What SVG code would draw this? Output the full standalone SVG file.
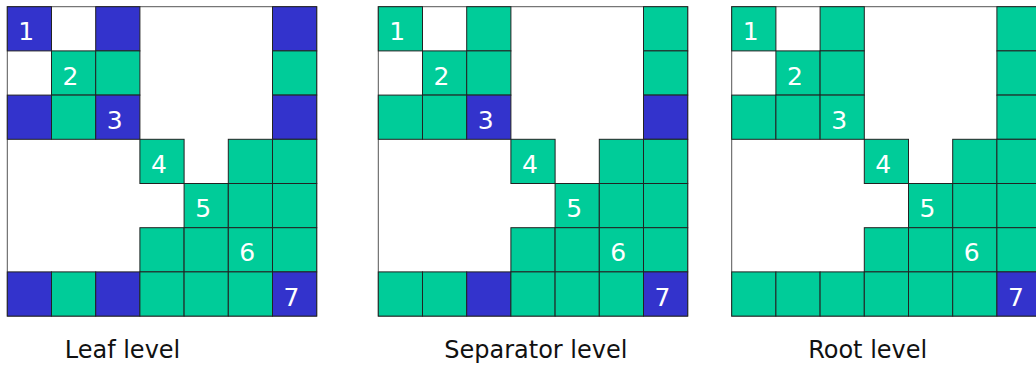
<svg xmlns="http://www.w3.org/2000/svg" width="1036" height="367" viewBox="0 0 1036 367">
<style>
.frame{fill:#ffffff;stroke:#555555;stroke-width:1}
.b{fill:#3333cc;stroke:#222222;stroke-width:1}
.g{fill:#00cc99;stroke:#222222;stroke-width:1}
.n{font-family:"DejaVu Sans",Verdana,sans-serif;font-size:25px;fill:#ffffff;text-anchor:middle}
.lbl{font-family:"DejaVu Sans",Verdana,sans-serif;font-size:24px;fill:#111111;text-anchor:middle}
</style>
<rect width="1036" height="367" fill="#ffffff"/>
<g id="leaf" transform="translate(7.3,6.7)">
<rect class="frame" x="0" y="0" width="309.4" height="309.4"/>
<rect class="b" x="0" y="0" width="44.2" height="44.2"/>
<rect class="b" x="88.4" y="0" width="44.2" height="44.2"/>
<rect class="b" x="265.2" y="0" width="44.2" height="44.2"/>
<rect class="g" x="44.2" y="44.2" width="44.2" height="44.2"/>
<rect class="g" x="88.4" y="44.2" width="44.2" height="44.2"/>
<rect class="g" x="265.2" y="44.2" width="44.2" height="44.2"/>
<rect class="b" x="0" y="88.4" width="44.2" height="44.2"/>
<rect class="g" x="44.2" y="88.4" width="44.2" height="44.2"/>
<rect class="b" x="88.4" y="88.4" width="44.2" height="44.2"/>
<rect class="b" x="265.2" y="88.4" width="44.2" height="44.2"/>
<rect class="g" x="132.6" y="132.6" width="44.2" height="44.2"/>
<rect class="g" x="221" y="132.6" width="44.2" height="44.2"/>
<rect class="g" x="265.2" y="132.6" width="44.2" height="44.2"/>
<rect class="g" x="176.8" y="176.8" width="44.2" height="44.2"/>
<rect class="g" x="221" y="176.8" width="44.2" height="44.2"/>
<rect class="g" x="265.2" y="176.8" width="44.2" height="44.2"/>
<rect class="g" x="132.6" y="221" width="44.2" height="44.2"/>
<rect class="g" x="176.8" y="221" width="44.2" height="44.2"/>
<rect class="g" x="221" y="221" width="44.2" height="44.2"/>
<rect class="g" x="265.2" y="221" width="44.2" height="44.2"/>
<rect class="b" x="0" y="265.2" width="44.2" height="44.2"/>
<rect class="g" x="44.2" y="265.2" width="44.2" height="44.2"/>
<rect class="b" x="88.4" y="265.2" width="44.2" height="44.2"/>
<rect class="g" x="132.6" y="265.2" width="44.2" height="44.2"/>
<rect class="g" x="176.8" y="265.2" width="44.2" height="44.2"/>
<rect class="g" x="221" y="265.2" width="44.2" height="44.2"/>
<rect class="b" x="265.2" y="265.2" width="44.2" height="44.2"/>
<text class="n" x="19" y="33.8">1</text>
<text class="n" x="63.2" y="78">2</text>
<text class="n" x="107.4" y="122.2">3</text>
<text class="n" x="151.6" y="166.4">4</text>
<text class="n" x="195.8" y="210.6">5</text>
<text class="n" x="240" y="254.8">6</text>
<text class="n" x="284.2" y="299">7</text>
</g>
<g id="separator" transform="translate(378.3,6.7)">
<rect class="frame" x="0" y="0" width="309.4" height="309.4"/>
<rect class="g" x="0" y="0" width="44.2" height="44.2"/>
<rect class="g" x="88.4" y="0" width="44.2" height="44.2"/>
<rect class="g" x="265.2" y="0" width="44.2" height="44.2"/>
<rect class="g" x="44.2" y="44.2" width="44.2" height="44.2"/>
<rect class="g" x="88.4" y="44.2" width="44.2" height="44.2"/>
<rect class="g" x="265.2" y="44.2" width="44.2" height="44.2"/>
<rect class="g" x="0" y="88.4" width="44.2" height="44.2"/>
<rect class="g" x="44.2" y="88.4" width="44.2" height="44.2"/>
<rect class="b" x="88.4" y="88.4" width="44.2" height="44.2"/>
<rect class="b" x="265.2" y="88.4" width="44.2" height="44.2"/>
<rect class="g" x="132.6" y="132.6" width="44.2" height="44.2"/>
<rect class="g" x="221" y="132.6" width="44.2" height="44.2"/>
<rect class="g" x="265.2" y="132.6" width="44.2" height="44.2"/>
<rect class="g" x="176.8" y="176.8" width="44.2" height="44.2"/>
<rect class="g" x="221" y="176.8" width="44.2" height="44.2"/>
<rect class="g" x="265.2" y="176.8" width="44.2" height="44.2"/>
<rect class="g" x="132.6" y="221" width="44.2" height="44.2"/>
<rect class="g" x="176.8" y="221" width="44.2" height="44.2"/>
<rect class="g" x="221" y="221" width="44.2" height="44.2"/>
<rect class="g" x="265.2" y="221" width="44.2" height="44.2"/>
<rect class="g" x="0" y="265.2" width="44.2" height="44.2"/>
<rect class="g" x="44.2" y="265.2" width="44.2" height="44.2"/>
<rect class="b" x="88.4" y="265.2" width="44.2" height="44.2"/>
<rect class="g" x="132.6" y="265.2" width="44.2" height="44.2"/>
<rect class="g" x="176.8" y="265.2" width="44.2" height="44.2"/>
<rect class="g" x="221" y="265.2" width="44.2" height="44.2"/>
<rect class="b" x="265.2" y="265.2" width="44.2" height="44.2"/>
<text class="n" x="19" y="33.8">1</text>
<text class="n" x="63.2" y="78">2</text>
<text class="n" x="107.4" y="122.2">3</text>
<text class="n" x="151.6" y="166.4">4</text>
<text class="n" x="195.8" y="210.6">5</text>
<text class="n" x="240" y="254.8">6</text>
<text class="n" x="284.2" y="299">7</text>
</g>
<g id="root" transform="translate(731.7,6.7)">
<rect class="frame" x="0" y="0" width="309.4" height="309.4"/>
<rect class="g" x="0" y="0" width="44.2" height="44.2"/>
<rect class="g" x="88.4" y="0" width="44.2" height="44.2"/>
<rect class="g" x="265.2" y="0" width="44.2" height="44.2"/>
<rect class="g" x="44.2" y="44.2" width="44.2" height="44.2"/>
<rect class="g" x="88.4" y="44.2" width="44.2" height="44.2"/>
<rect class="g" x="265.2" y="44.2" width="44.2" height="44.2"/>
<rect class="g" x="0" y="88.4" width="44.2" height="44.2"/>
<rect class="g" x="44.2" y="88.4" width="44.2" height="44.2"/>
<rect class="g" x="88.4" y="88.4" width="44.2" height="44.2"/>
<rect class="g" x="265.2" y="88.4" width="44.2" height="44.2"/>
<rect class="g" x="132.6" y="132.6" width="44.2" height="44.2"/>
<rect class="g" x="221" y="132.6" width="44.2" height="44.2"/>
<rect class="g" x="265.2" y="132.6" width="44.2" height="44.2"/>
<rect class="g" x="176.8" y="176.8" width="44.2" height="44.2"/>
<rect class="g" x="221" y="176.8" width="44.2" height="44.2"/>
<rect class="g" x="265.2" y="176.8" width="44.2" height="44.2"/>
<rect class="g" x="132.6" y="221" width="44.2" height="44.2"/>
<rect class="g" x="176.8" y="221" width="44.2" height="44.2"/>
<rect class="g" x="221" y="221" width="44.2" height="44.2"/>
<rect class="g" x="265.2" y="221" width="44.2" height="44.2"/>
<rect class="g" x="0" y="265.2" width="44.2" height="44.2"/>
<rect class="g" x="44.2" y="265.2" width="44.2" height="44.2"/>
<rect class="g" x="88.4" y="265.2" width="44.2" height="44.2"/>
<rect class="g" x="132.6" y="265.2" width="44.2" height="44.2"/>
<rect class="g" x="176.8" y="265.2" width="44.2" height="44.2"/>
<rect class="g" x="221" y="265.2" width="44.2" height="44.2"/>
<rect class="b" x="265.2" y="265.2" width="44.2" height="44.2"/>
<text class="n" x="19" y="33.8">1</text>
<text class="n" x="63.2" y="78">2</text>
<text class="n" x="107.4" y="122.2">3</text>
<text class="n" x="151.6" y="166.4">4</text>
<text class="n" x="195.8" y="210.6">5</text>
<text class="n" x="240" y="254.8">6</text>
<text class="n" x="284.2" y="299">7</text>
</g>
<g id="labels">
<text class="lbl" x="122.5" y="357.7">Leaf level</text>
<text class="lbl" x="535.8" y="357.7">Separator level</text>
<text class="lbl" x="867.7" y="357.7">Root level</text>
</g>
<g id="connectors"></g>
</svg>
